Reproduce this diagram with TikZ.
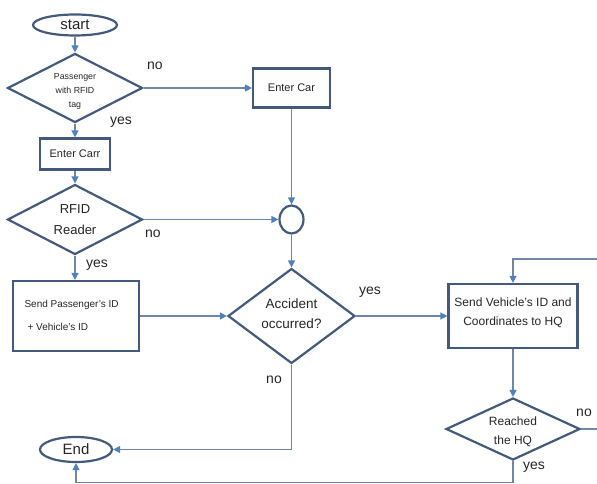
\documentclass[tikz,border=0pt]{standalone}
\usepackage{fontspec}
\setmainfont{Liberation Sans}
\usetikzlibrary{shapes.geometric,arrows.meta}
\definecolor{bord}{HTML}{435A7C}
\definecolor{conn}{HTML}{6E86A8}
\definecolor{tip}{HTML}{4F81BD}
\definecolor{txt}{HTML}{262626}
\tikzset{
  box/.style={draw=bord, line width=2.2pt, rectangle, inner sep=0pt, fill=white},
  oval/.style={draw=bord, line width=2.2pt, ellipse, inner sep=0pt, fill=white},
  dia/.style={draw=bord, line width=2.2pt, diamond, inner sep=0pt, fill=white},
  conline/.style={draw=conn, line width=1.3pt},
  arr/.style={conline, -{Triangle[length=7pt,width=7pt,color=tip]}},
  lbl/.style={font=\fontsize{14}{16}\selectfont, text=txt},
}
\begin{document}
\begin{tikzpicture}[x=1pt,y=-1pt]
\useasboundingbox (0,0) rectangle (597,484);
% nodes
\node[oval, minimum width=84pt, minimum height=21pt] (start) at (75,25) {};
\node[text=txt, font=\fontsize{15}{17}\selectfont] at (start) {start};

\node[dia, minimum width=135pt, minimum height=69pt] (d1) at (75,88) {};
\node[text=txt, align=center, font=\fontsize{8.8}{14}\selectfont] at (75,91) {Passenger\\with RFID\\tag};

\node[box, minimum width=77pt, minimum height=39pt] (enter2) at (291.5,88) {};
\node[text=txt, font=\fontsize{11}{13}\selectfont] at (enter2) {Enter Car};

\node[box, minimum width=70pt, minimum height=31pt] (enter1) at (75,154) {};
\node[text=txt, font=\fontsize{11}{13}\selectfont] at (enter1) {Enter Carr};

\node[dia, minimum width=135pt, minimum height=70pt] (d2) at (75,219.5) {};
\node[text=txt, align=center, font=\fontsize{13}{21}\selectfont] at (d2) {RFID\\Reader};

\node[oval, minimum width=24pt, minimum height=28pt] (circ) at (291.5,219.5) {};

\node[box, minimum width=126pt, minimum height=70pt] (sendp) at (76,316) {};
\node[text=txt, align=left, anchor=west, font=\fontsize{10}{23}\selectfont] at (21,315.5) {Send Passenger's ID\\\hspace{3pt}+ Vehicle's ID};

\node[dia, minimum width=127pt, minimum height=95pt] (acc) at (291.5,316) {};
\node[text=txt, align=center, font=\fontsize{13.5}{20}\selectfont] at (291.5,314) {Accident\\occurred?};

\node[box, minimum width=129pt, minimum height=64pt] (sendv) at (513,316) {};
\node[text=txt, align=center, font=\fontsize{12}{19}\selectfont] at (513,313) {Send Vehicle's ID and\\Coordinates to HQ};

\node[dia, minimum width=134pt, minimum height=62pt] (reach) at (513,429) {};
\node[text=txt, align=center, font=\fontsize{12}{19}\selectfont] at (513,432) {Reached\\the HQ};

\node[oval, minimum width=72pt, minimum height=25pt] (end) at (76,449.5) {};
\node[text=txt, font=\fontsize{15}{17}\selectfont] at (end) {End};

% helper coordinates
\coordinate (accturn) at (291.5,449.5);
\coordinate (redge) at (597,429);
\coordinate (redgetop) at (597,259);
\coordinate (loopturn) at (513,259);
\coordinate (botright) at (513,482.5);
\coordinate (botleft) at (76,482.5);

% connectors
\draw[arr] (start) -- (d1.north);
\draw[arr] (d1.east) -- (enter2.west);
\draw[arr] (d1.south) -- (enter1.north);
\draw[arr] (enter1.south) -- (d2.north);
\draw[arr] (d2.east) -- (circ.west);
\draw[arr] (enter2.south) -- (circ.north);
\draw[arr] (circ.south) -- (acc.north);
\draw[arr] (d2.south) -- (sendp.north -| d2.south);
\draw[arr] (sendp.east) -- (acc.west);
\draw[arr] (acc.east) -- (sendv.west);
\draw[arr] (acc.south) -- (accturn) -- (end.east);
\draw[arr] (sendv.south) -- (reach.north);
\draw[conline] (reach.east) -- (redge);
\draw[arr] (redgetop) -- (loopturn) -- (sendv.north);
\draw[arr] (reach.south) -- (botright) -- (botleft) -- (end.south);

% labels
\node[lbl] (l1) at (155,66) {no};
\node[lbl] (l2) at (121,122) {yes};
\node[lbl] (l3) at (153,234) {no};
\node[lbl] (l4) at (97,265) {yes};
\node[lbl] (l5) at (370,292) {yes};
\node[lbl] (l6) at (274,380) {no};
\node[lbl] (l7) at (584,413) {no};
\node[lbl] (l8) at (534,467) {yes};
\end{tikzpicture}
\end{document}
